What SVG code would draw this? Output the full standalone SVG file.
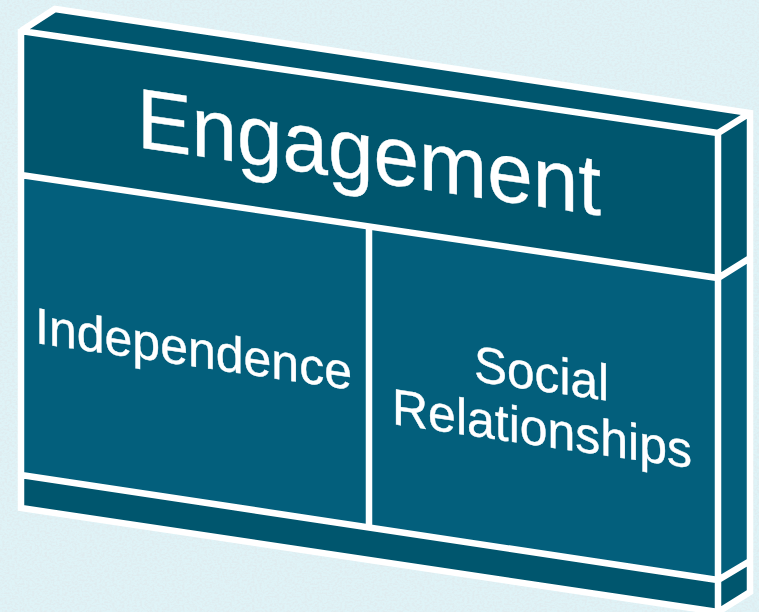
<svg xmlns="http://www.w3.org/2000/svg" width="759" height="612" viewBox="0 0 759 612">
<style>
.dark{fill:#00566e}
.light{fill:#035f7c}
.edge{fill:none;stroke:#fff;stroke-width:6.5;stroke-linejoin:miter}
text{font-family:"Liberation Sans",Arial,sans-serif;fill:#fff;stroke:#fff;stroke-width:.4}
</style>
<defs>
<filter id="grain" x="0" y="0" width="100%" height="100%">
<feTurbulence type="fractalNoise" baseFrequency="0.4 0.55" numOctaves="2" seed="4"/>
<feColorMatrix type="matrix" values="0 0 0 0 0.74  0 0 0 0 0.84  0 0 0 0 0.87  3.4 0 0 0 -1.35"/>
</filter>
</defs>
<rect width="759" height="612" fill="#dff3f7"/>
<rect width="759" height="612" filter="url(#grain)"/>
<g id="top-face"><polygon class="dark" points="21,31 55,9 750,113 718,133"/></g>
<g id="side-face">
<polygon class="dark" points="718,133 750,113 750,258 718,278"/>
<polygon class="light" points="718,278 750,258 750,561 718,580"/>
<polygon class="dark" points="718,580 750,561 750,592 718,612"/>
</g>
<g id="engagement">
<polygon class="dark" points="21,31 718,133 718,278 21,175"/>
<text transform="translate(137,147) skewY(8.4)" font-size="85" textLength="464" lengthAdjust="spacingAndGlyphs">Engagement</text>
</g>
<g id="independence">
<polygon class="light" points="21,175 369,227 369,526 21,475"/>
<text transform="translate(35,343) skewY(8.4)" font-size="51" textLength="317" lengthAdjust="spacingAndGlyphs">Independence</text>
</g>
<g id="social-relationships">
<polygon class="light" points="369,227 718,278 718,580 369,526"/>
<text transform="translate(474,381) skewY(8.4)" font-size="51" textLength="135" lengthAdjust="spacingAndGlyphs">Social</text>
<text transform="translate(392,424) skewY(8.4)" font-size="51" textLength="300" lengthAdjust="spacingAndGlyphs">Relationships</text>
</g>
<g id="base"><polygon class="dark" points="21,475 718,580 718,612 21,508"/></g>
<g id="connectors">
<path class="edge" d="M21,31 L55,9 L750,113 L750,592 L718,612 M21,31 L718,133 L750,113 M718,133 L718,615 M21,29 L21,508 L718,612 M21,175 L718,278 L750,258 M21,475 L718,580 L750,561 M369,227 L369,526"/>
</g>
</svg>
